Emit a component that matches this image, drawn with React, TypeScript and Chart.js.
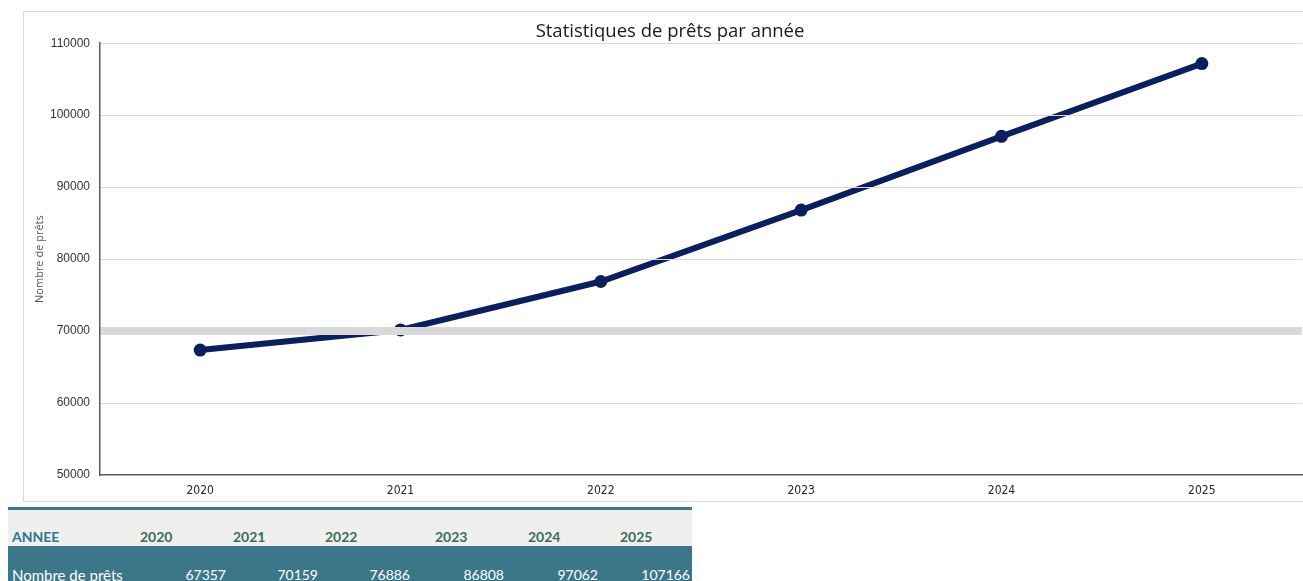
import React, { useEffect, useRef } from "react";
import { Chart, registerables } from "chart.js";

Chart.register(...registerables);

// ---- data ----
const years = ["2020", "2021", "2022", "2023", "2024", "2025"];
const loans = [67357, 70159, 76886, 86808, 97062, 107166];
const yTickValues = [50000, 60000, 70000, 80000, 90000, 100000, 110000];
const highlightValue = 70000;
const chartTitle = "Statistiques de prêts par année";
const yAxisTitle = "Nombre de prêts";
const tableHeaderLabel = "ANNEE";
const tableRowLabel = "Nombre de prêts";

// ---- table layout (page px) ----
const headerColLeft = [140, 233, 325, 435, 528, 620];
const valueColRight = [226, 318, 410, 504, 598, 690];

const NAVY = "#0a1f5e";
const GRID = "#d9d9d9";
const AXIS = "#595959";

export default function App() {
  const canvasRef = useRef<HTMLCanvasElement | null>(null);

  useEffect(() => {
    if (!canvasRef.current) return;
    const chart = new Chart(canvasRef.current, {
      type: "line",
      data: {
        labels: years,
        datasets: [
          {
            data: loans,
            borderColor: NAVY,
            backgroundColor: NAVY,
            borderWidth: 6,
            pointRadius: 6.5,
            pointHoverRadius: 6.5,
            pointBackgroundColor: NAVY,
            pointBorderWidth: 0,
            tension: 0,
            fill: false,
          },
        ],
      },
      options: {
        responsive: false,
        animation: false,
        devicePixelRatio: 1,
        layout: { autoPadding: false, padding: { left: 38, right: 1, top: 0, bottom: 0 } },
        plugins: {
          legend: { display: false },
          tooltip: { enabled: false },
          title: {
            display: true,
            text: chartTitle,
            color: "#1a1a1a",
            font: { family: "'Open Sans', sans-serif", size: 18.5, weight: "normal" },
            padding: { top: 21, bottom: 0 },
          },
        },
        scales: {
          x: {
            offset: true,
            grid: {
              drawTicks: false,
              lineWidth: 1,
              color: (ctx: any) => (ctx.index === years.length ? GRID : "rgba(0,0,0,0)"),
            },
            border: { display: true, color: AXIS, width: 1.5 },
            ticks: {
              color: "#262626",
              font: { family: "'Liberation Sans Narrow', 'DejaVu Sans Condensed', sans-serif", size: 12 },
              padding: 8.4,
              maxRotation: 0,
              autoSkip: false,
            },
            afterFit: (s: any) => {
              s.height = 25;
              s.paddingLeft = 0;
              s.paddingRight = 0;
            },
          },
          y: {
            min: 50000,
            max: 110000,
            afterBuildTicks: (s: any) => {
              s.ticks = yTickValues.map((v) => ({ value: v }));
            },
            grid: {
              z: 1,
              drawTicks: false,
              color: (ctx: any) =>
                ctx.tick && ctx.tick.value === 50000 ? "rgba(0,0,0,0)" : GRID,
              lineWidth: (ctx: any) =>
                ctx.tick && ctx.tick.value === highlightValue ? 8 : 1,
            },
            border: { display: true, color: AXIS, width: 1.5, z: 2 },
            ticks: {
              color: "#333333",
              font: { family: "'Liberation Sans', Arial, sans-serif", size: 12 },
              padding: 10,
              callback: (v: any) => String(v),
            },
            title: {
              display: true,
              text: yAxisTitle,
              color: AXIS,
              font: { family: "'Open Sans', sans-serif", size: 11 },
              padding: { top: -5, bottom: 0 },
            },
            afterFit: (s: any) => {
              s.width = 62;
            },
          },
        },
      },
    });
    return () => chart.destroy();
  }, []);

  const tableFont = "Lato, 'Open Sans', sans-serif";

  return (
    <div
      style={{
        position: "absolute",
        left: 0,
        top: 0,
        width: 1303,
        height: 581,
        overflow: "hidden",
        background: "#ffffff",
      }}
    >
      {/* chart frame */}
      <div
        style={{
          position: "absolute",
          left: 23,
          top: 11,
          width: 1300,
          height: 491,
          border: "1px solid " + GRID,
          boxSizing: "border-box",
        }}
      />
      <canvas
        ref={canvasRef}
        width={1303}
        height={500}
        style={{ position: "absolute", left: 0, top: 0, width: 1303, height: 500 }}
      />

      {/* data table */}
      <div
        style={{
          position: "absolute",
          left: 8,
          top: 507,
          width: 684,
          height: 3,
          background: "#3b7a8b",
        }}
      />
      <div
        style={{
          position: "absolute",
          left: 8,
          top: 510,
          width: 684,
          height: 36,
          background: "#efefed",
        }}
      />
      <div
        style={{
          position: "absolute",
          left: 8,
          top: 546,
          width: 684,
          height: 40,
          background: "#3b7789",
        }}
      />
      <div
        style={{
          position: "absolute",
          left: 12,
          top: 528,
          height: 18,
          lineHeight: "18px",
          fontFamily: tableFont,
          fontWeight: 700,
          fontSize: 14,
          color: "#2e7592",
        }}
      >
        {tableHeaderLabel}
      </div>
      {years.map((y, i) => (
        <div
          key={"h" + y}
          style={{
            position: "absolute",
            left: headerColLeft[i],
            top: 528,
            height: 18,
            lineHeight: "18px",
            fontFamily: tableFont,
            fontWeight: 700,
            fontSize: 14,
            color: "#3b6d5c",
          }}
        >
          {y}
        </div>
      ))}
      <div
        style={{
          position: "absolute",
          left: 12,
          top: 565,
          height: 20,
          lineHeight: "20px",
          fontFamily: tableFont,
          fontSize: 15,
          color: "#ffffff",
          whiteSpace: "nowrap",
        }}
      >
        {tableRowLabel}
      </div>
      {loans.map((v, i) => (
        <div
          key={"v" + i}
          style={{
            position: "absolute",
            left: valueColRight[i] - 80,
            width: 80,
            textAlign: "right",
            top: 565,
            height: 20,
            lineHeight: "20px",
            fontFamily: tableFont,
            fontSize: 14,
            color: "#ffffff",
          }}
        >
          {String(v)}
        </div>
      ))}
    </div>
  );
}
